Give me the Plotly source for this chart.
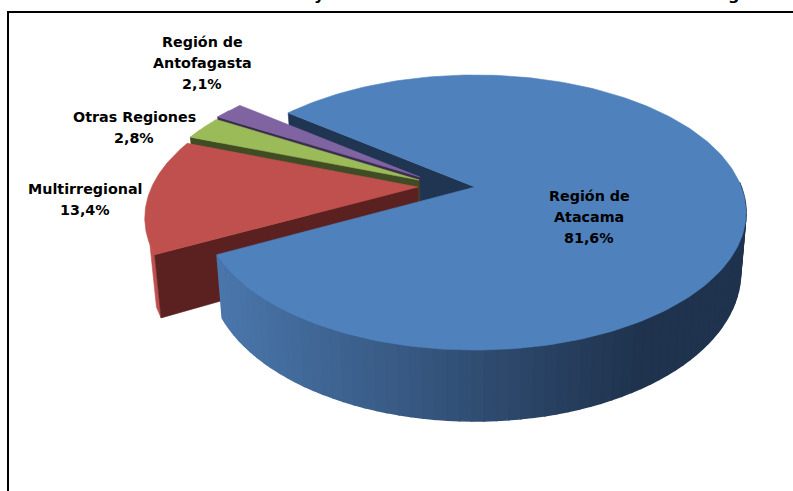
import math
import plotly.graph_objects as go

# ---- data ----
categories = ["Región de Atacama", "Multirregional", "Otras Regiones", "Región de Antofagasta"]
values = [81.6, 13.4, 2.8, 2.1]

# ---- style ----
top_colors = ["#4f81bd", "#c0504d", "#9bbb59", "#8064a2"]
wall_colors = ["#1f3552", "#5a2120", "#3f4c24", "#3a2c4f"]
explode = [(0.0, 0.0), (-0.214, 0.0), (-0.212, 0.053), (-0.21, 0.076)]
label_lines = [["Región de", "Atacama"], ["Multirregional"], ["Otras Regiones"], ["Región de", "Antofagasta"]]
label_pos = [(589, 196), (85, 189), (134, 117), (202, 42)]
title_tails = [("y", 319), ("g", 733)]
LINE = 21

CX, CY, A, B, K, D, SHRINK = 475, 187, 266.3, 132.8, 0.1855, 57.8, 0.98
START = 141.5


def project(u, v, bottom=False):
    w = 1 + K * v
    x = A * u / w
    y = -B * v / w
    if bottom:
        return CX + x * SHRINK, CY + y + D / w
    return CX + x, CY + y


def rim(ang, off):
    r = math.radians(ang)
    return off[0] + math.cos(r), off[1] + math.sin(r)


def arc(a0, a1, off, bottom=False, n=90):
    return [project(*rim(a0 + (a1 - a0) * i / n, off), bottom) for i in range(n + 1)]


fig = go.Figure()


def poly(pts, color, lw=0.6):
    xs = [p[0] for p in pts] + [pts[0][0]]
    ys = [p[1] for p in pts] + [pts[0][1]]
    fig.add_trace(go.Scatter(x=xs, y=ys, mode="lines", fill="toself", fillcolor=color,
                             line=dict(color=color, width=lw), hoverinfo="skip", showlegend=False))


# angular extents, clockwise from START
spans = []
cur = START
for v in values:
    sweep = 360 * v / 100
    spans.append((cur, cur - sweep))
    cur -= sweep
end_blue = spans[0][1]
for i in (1, 2, 3):
    spans[i] = (spans[i][0] + 360, spans[i][1] + 360)

# back wall of the big slice
a0, a1 = spans[0]
poly([project(0, 0), project(*rim(a0, explode[0])), project(*rim(a0, explode[0]), True), project(0, 0, True)],
     wall_colors[0])

# small slices, far to near
for i in [3, 2, 1]:
    a0, a1 = spans[i]
    off = explode[i]
    outer = arc(a0, a1, off)
    side_end = a0 - min(a0 - a1, 4)
    poly(arc(a0, side_end, off, n=12) + arc(a0, side_end, off, True, n=12)[::-1], top_colors[i])
    poly([project(*off), project(*rim(a0, off)), project(*rim(a0, off), True), project(*off, True)], wall_colors[i])
    poly([project(*off)] + outer, top_colors[i])


def mix(c0, c1, t):
    return "#%02x%02x%02x" % tuple(round(c0[j] + (c1[j] - c0[j]) * t) for j in range(3))


# outer side of the big slice, shaded
s0, s1 = end_blue + 360, 362
N = 70
for i in range(N):
    p0 = s0 + (s1 - s0) * i / N
    p1 = s0 + (s1 - s0) * (i + 1) / N
    xm = project(*rim((p0 + p1) / 2, explode[0]))[0]
    t = min(1, max(0, (xm - 222) / (640 - 222)))
    col = mix((0x4a, 0x76, 0xab), (0x1f, 0x33, 0x4e), t)
    poly(arc(p0, p1, explode[0], n=3) + arc(p0, p1, explode[0], True, n=3)[::-1], col, lw=1.5)

# top of the big slice
a0, a1 = spans[0]
poly([project(0, 0)] + arc(a0, a1, explode[0], n=240), top_colors[0])

# text
for i, lines in enumerate(label_lines):
    rows = lines + [f"{values[i]:.1f}".replace(".", ",") + "%"]
    x, y = label_pos[i]
    for j, row in enumerate(rows):
        fig.add_annotation(x=x, y=y + j * LINE, text=f"<b>{row}</b>", showarrow=False,
                           xanchor="center", yanchor="middle",
                           font=dict(family="DejaVu Sans", size=14.3, color="#000000"))

for ch, px in title_tails:
    fig.add_annotation(xref="paper", yref="paper", x=px / 793, y=1.0, text=f"<b>{ch}</b>", showarrow=False,
                       xanchor="center", yanchor="bottom", yshift=-6,
                       font=dict(family="DejaVu Sans", size=16, color="#000000"))

fig.update_layout(
    width=793, height=491, margin=dict(l=0, r=0, t=0, b=0),
    paper_bgcolor="white", plot_bgcolor="white", showlegend=False,
    xaxis=dict(range=[0, 793], visible=False, fixedrange=True),
    yaxis=dict(range=[491, 0], visible=False, fixedrange=True),
    shapes=[dict(type="rect", xref="x", yref="y", x0=8, y0=12, x1=820, y1=520,
                 line=dict(color="#000000", width=2), layer="below")],
)
fig.write_html("out.html", config={"displayModeBar": False},
               post_script="document.body.style.margin='0';document.body.style.overflow='hidden';")
